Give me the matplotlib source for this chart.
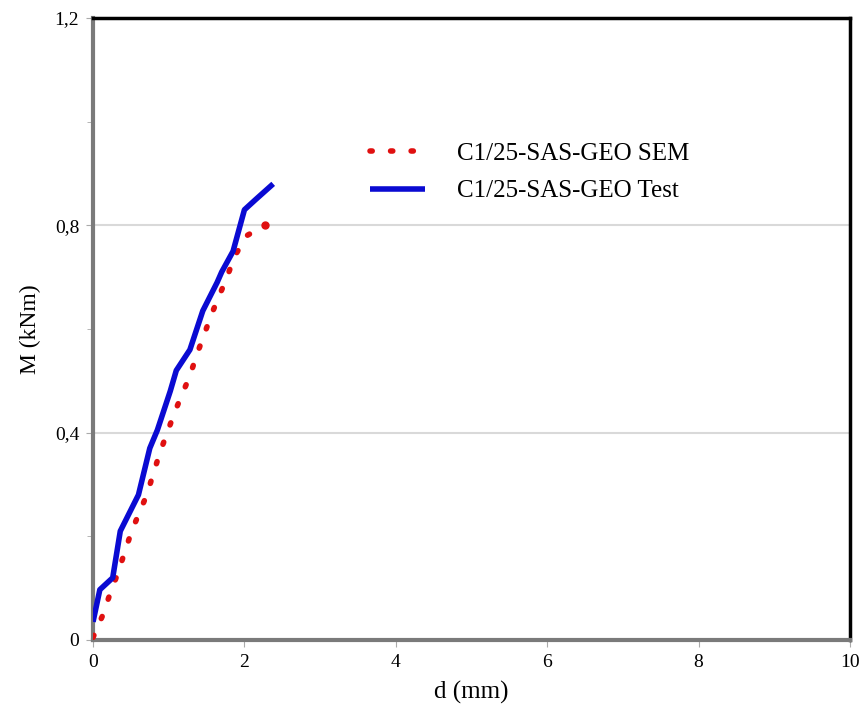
import matplotlib
matplotlib.use("Agg")
import matplotlib.pyplot as plt
from matplotlib.ticker import FixedLocator

# data
d_test = [0.0, 0.09, 0.26, 0.36, 0.6, 0.75, 0.85, 1.02, 1.1, 1.19, 1.28, 1.45, 1.64, 1.7, 1.85, 2.0, 2.15, 2.38]
m_test = [0.035, 0.097, 0.12, 0.21, 0.28, 0.37, 0.405, 0.48, 0.52, 0.54, 0.56, 0.635, 0.69, 0.71, 0.75, 0.83, 0.85, 0.88]

d_sem = [0.0, 0.12, 0.22, 0.33, 0.42, 0.51, 0.71, 0.88, 1.08, 1.28, 1.37, 1.57, 1.77, 1.87, 2.03, 2.27]
m_sem = [0.005, 0.045, 0.087, 0.13, 0.17, 0.21, 0.28, 0.36, 0.44, 0.51, 0.55, 0.63, 0.70, 0.74, 0.78, 0.80]

x_ticks = [0, 2, 4, 6, 8, 10]
y_ticks = [0, 0.4, 0.8, 1.2]
y_labels = ["0", "0,4", "0,8", "1,2"]

plt.rcParams['font.family'] = ['Liberation Serif', 'DejaVu Serif']

fig = plt.figure(figsize=(8.67, 7.11), dpi=100)
ax = fig.add_axes([0.1073, 0.0999, 0.8731, 0.8748])

ax.plot(d_sem, m_sem, color='#e01010', linestyle=(0, (0.4, 3.3)), linewidth=4,
        dash_capstyle='round', label='C1/25-SAS-GEO SEM', zorder=3)
# last point of the dotted curve so it is not lost in a gap
ax.plot(d_sem[-1:], m_sem[-1:], 'o', color='#e01010', markersize=5, zorder=3)
ax.plot(d_test, m_test, color='#0a0ad2', linewidth=4, solid_capstyle='butt',
        label='C1/25-SAS-GEO Test', zorder=4)

ax.set_xlim(0, 10)
ax.set_ylim(0, 1.2)
ax.set_xticks(x_ticks)
ax.set_yticks(y_ticks)
ax.set_yticklabels(y_labels)
ax.yaxis.set_minor_locator(FixedLocator([0.2, 0.6, 1.0]))
ax.tick_params(axis='both', which='major', direction='out', length=5, color='#aaaaaa',
               labelsize=14, pad=5)
ax.tick_params(axis='y', which='minor', direction='out', length=4, color='#aaaaaa')

for y in [0.4, 0.8]:
    ax.axhline(y, color='#d9d9d9', linewidth=1.5, zorder=1)

ax.spines['left'].set_color('#7a7a7a')
ax.spines['bottom'].set_color('#7a7a7a')
ax.spines['left'].set_linewidth(3)
ax.spines['bottom'].set_linewidth(3)
ax.spines['top'].set_color('black')
ax.spines['right'].set_color('black')
ax.spines['top'].set_linewidth(2.5)
ax.spines['right'].set_linewidth(2.5)

ax.set_xlabel('d (mm)', fontsize=18, labelpad=7)
ax.set_ylabel('M (kNm)', fontsize=17, labelpad=10)

ax.legend(loc='upper left', bbox_to_anchor=(0.366, 0.80), frameon=False, fontsize=18,
          handlelength=2.2, handletextpad=1.28, labelspacing=0.6,
          borderpad=0, borderaxespad=0)

fig.savefig('out.png', dpi=100)
